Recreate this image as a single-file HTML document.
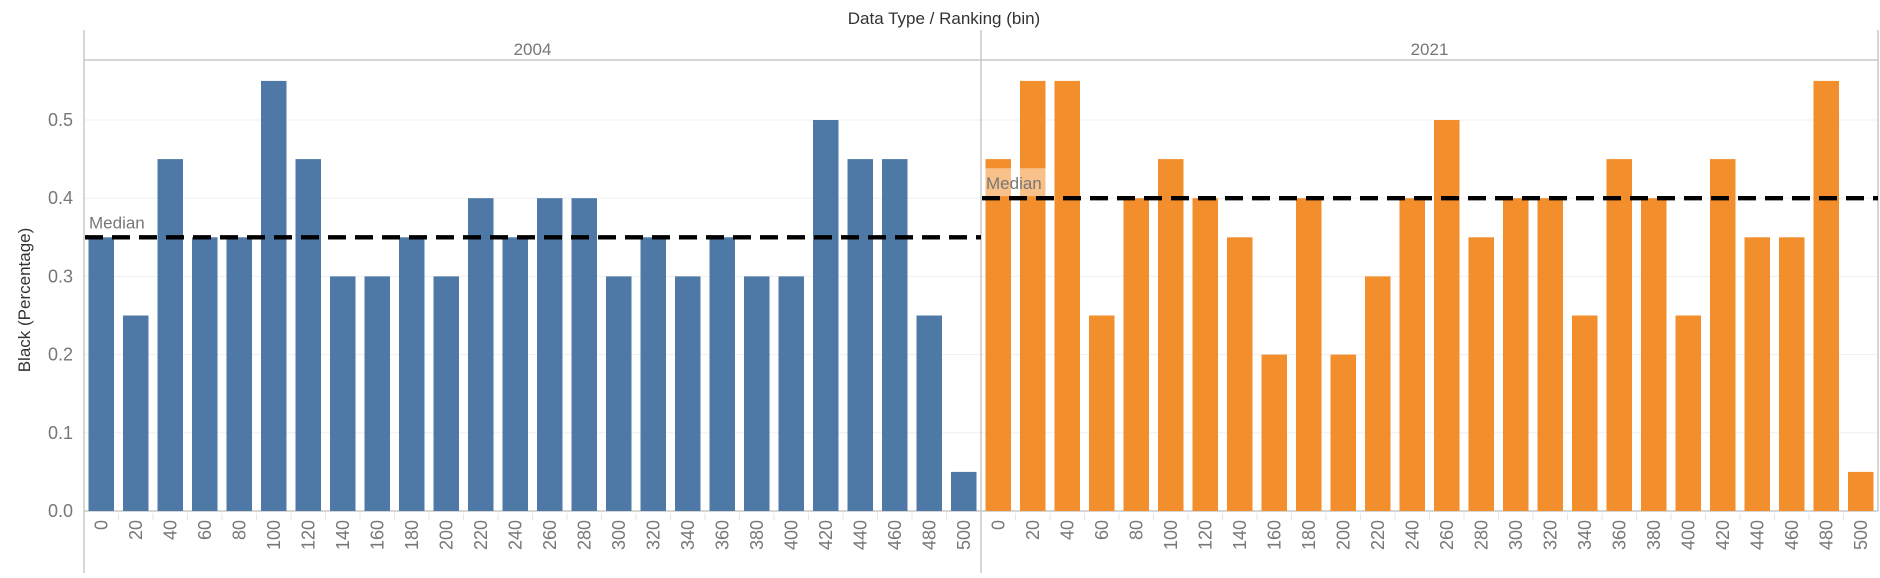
<!DOCTYPE html>
<html><head><meta charset="utf-8"><style>
body{margin:0;background:#fff;}
svg text{font-family:"Liberation Sans","DejaVu Sans",sans-serif;}
</style></head><body>
<svg id="chart" width="1880" height="573" xmlns="http://www.w3.org/2000/svg">
<text x="944" y="24" text-anchor="middle" font-size="17" fill="#333">Data Type / Ranking (bin)</text>
<text transform="translate(30,300) rotate(-90)" text-anchor="middle" font-size="17" fill="#333">Black (Percentage)</text>
<g id="g"></g>
</svg>
<script>
const categories=[0,20,40,60,80,100,120,140,160,180,200,220,240,260,280,300,320,340,360,380,400,420,440,460,480,500];
const panels=["2004","2021"];
const values2004=[.35,.25,.45,.35,.35,.55,.45,.3,.3,.35,.3,.4,.35,.4,.4,.3,.35,.3,.35,.3,.3,.5,.45,.45,.25,.05];
const values2021=[.45,.55,.55,.25,.4,.45,.4,.35,.2,.4,.2,.3,.4,.5,.35,.4,.4,.25,.45,.4,.25,.45,.35,.35,.55,.05];
const medians=[0.35,0.40];
const yTicks=[0,0.1,0.2,0.3,0.4,0.5];
const yTickLabels=["0.0","0.1","0.2","0.3","0.4","0.5"];

const NS="http://www.w3.org/2000/svg";
const gEl=document.getElementById('g');
const baseY=511, headerY=60, frameTop=30, pxPer=782;
const yScale=v=>baseY-v*pxPer;
const panelX=[84,981], panelW=897;
const colors=["#4e79a7","#f28e2b"];
const series=[values2004,values2021];
function mk(t,a){const e=document.createElementNS(NS,t);for(const k in a)e.setAttribute(k,a[k]);gEl.appendChild(e);return e;}

yTicks.forEach((t,i)=>{
  const l=mk('line',{x1:84,x2:1878,y1:yScale(t),y2:yScale(t),stroke:'#efefef','stroke-width':1});
  
  
  const tx=mk('text',{x:73,y:yScale(t)+6,'text-anchor':'end','font-size':18,fill:'#777'});
  tx.textContent=yTickLabels[i];
  
  
});
[[84,frameTop,84,573],[981,frameTop,981,573],[1878,frameTop,1878,baseY],[84,headerY,1878,headerY],[84,baseY,1878,baseY]].forEach(c=>{
  const l=mk('line',{x1:c[0],y1:c[1],x2:c[2],y2:c[3],stroke:'#c8c8c8','stroke-width':1.5});
  
  
});
panels.forEach((p,pi)=>{
  const px=panelX[pi], step=panelW/categories.length;
  const h=mk('text',{x:px+panelW/2,y:55,'text-anchor':'middle','font-size':17,fill:'#777'});
  h.textContent=p;
  
  
  categories.forEach((c,i)=>{
    const v=series[pi][i];
    const r=mk('rect',{x:px+i*step+4.5,y:yScale(v),width:step-9,height:baseY-yScale(v),fill:colors[pi]});
    
    
    const cx=px+i*step+step/2;
    const t=mk('text',{transform:`translate(${cx+6},520) rotate(-90)`,'text-anchor':'end','font-size':18,fill:'#777'});
    t.textContent=c;
    
    
    if(i>0){const tk=mk('line',{x1:px+i*step,x2:px+i*step,y1:baseY+2,y2:baseY+9,stroke:'#e6e6e6'});
      
      }
  });
  const my=yScale(medians[pi]);
  if(pi===1){const bg=mk('rect',{x:985,y:my-30,width:66,height:28,fill:'#fff','fill-opacity':0.45});
    
    }
  const ml=mk('text',{x:px+5,y:my-9,'font-size':17,fill:'#777'});
  ml.textContent='Median';
  
  
  const ln=mk('line',{x1:px+1,x2:px+panelW,y1:my,y2:my,stroke:'#000','stroke-width':4.4,'stroke-dasharray':'18 9'});
  
  
});
</script>
</body></html>
